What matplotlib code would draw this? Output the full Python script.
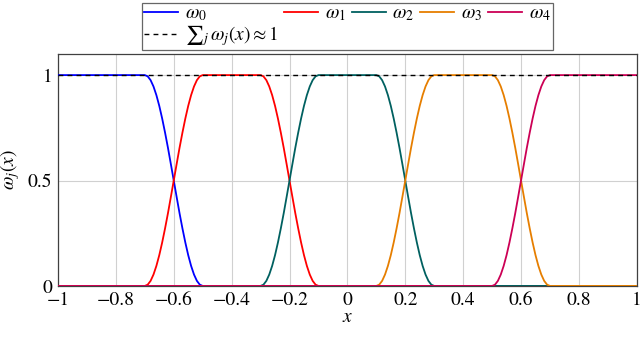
import matplotlib
matplotlib.use("Agg")
import matplotlib.pyplot as plt

plt.rcParams['font.family'] = 'STIXGeneral'
plt.rcParams['mathtext.fontset'] = 'stix'
plt.rcParams['font.size'] = 14

# window layout: where each window starts rising / starts falling
rise_start = [None, -0.7, -0.3, 0.1, 0.5]
fall_start = [-0.7, -0.3, 0.1, 0.5, None]
ramp_width = 0.2
# shape of one rising edge (fraction of width -> value)
ramp_t = [0, 0.05, 0.1, 0.15, 0.2, 0.25, 0.3, 0.35, 0.4, 0.45, 0.5,
          0.55, 0.6, 0.65, 0.7, 0.75, 0.8, 0.85, 0.9, 0.95, 1.0]
ramp_v = [0, 0.006, 0.024, 0.054, 0.095, 0.146, 0.206, 0.273, 0.345, 0.422, 0.5,
          0.578, 0.655, 0.727, 0.794, 0.854, 0.905, 0.946, 0.976, 0.994, 1.0]

labels = [r'$\omega_0$', r'$\omega_1$', r'$\omega_2$', r'$\omega_3$', r'$\omega_4$']
colors = ['#0000ff', '#ff0000', '#006060', '#e67e00', '#cc0055']

fig = plt.figure(figsize=(6.4, 3.53), dpi=100)
ax = fig.add_axes([0.0906, 0.19, 0.9044, 0.657])

handles = []
for j in range(5):
    xs, ys = [-1.0], [1.0 if rise_start[j] is None else 0.0]
    if rise_start[j] is not None:
        xs += [rise_start[j] + t * ramp_width for t in ramp_t]
        ys += ramp_v
    if fall_start[j] is not None:
        xs += [fall_start[j] + t * ramp_width for t in ramp_t]
        ys += [1 - v for v in ramp_v]
    xs.append(1.0)
    ys.append(ys[-1])
    h, = ax.plot(xs, ys, color=colors[j], lw=1.3, label=labels[j], zorder=3)
    handles.append(h)

hsum, = ax.plot([-1, 1], [1, 1], color='black', lw=1.0, ls=(0, (3.5, 3)),
                label=r'${\sum}_j\,\omega_j(x)\approx 1$', zorder=4)

ax.set_xlim(-1, 1)
ax.set_ylim(0, 1.1)
xt = [-1, -0.8, -0.6, -0.4, -0.2, 0, 0.2, 0.4, 0.6, 0.8, 1]
ax.set_xticks(xt)
ax.set_xticklabels([('%g' % v).replace('-', '\u2212') for v in xt])
ax.set_yticks([0, 0.5, 1])
ax.set_yticklabels(['0', '0.5', '1'])
ax.grid(True, color='#d0d0d0', lw=0.8)
ax.set_axisbelow(True)
ax.tick_params(length=0, pad=4)
for s in ax.spines.values():
    s.set_color('#404040')
    s.set_linewidth(0.9)

ax.set_xlabel(r'$x$', labelpad=0)
ax.set_ylabel(r'$\omega_j(x)$', labelpad=4)

order = [handles[0], hsum] + handles[1:]
leg = ax.legend(handles=order, ncol=5, loc='lower center', bbox_to_anchor=(0.5, 1.0),
                frameon=True, fancybox=False, edgecolor='#404040', borderpad=0.1,
                handlelength=1.75, columnspacing=0.3, handletextpad=0.35,
                labelspacing=0.0, borderaxespad=0.2)
leg.get_frame().set_linewidth(0.9)

fig.savefig('out.png', dpi=100)
